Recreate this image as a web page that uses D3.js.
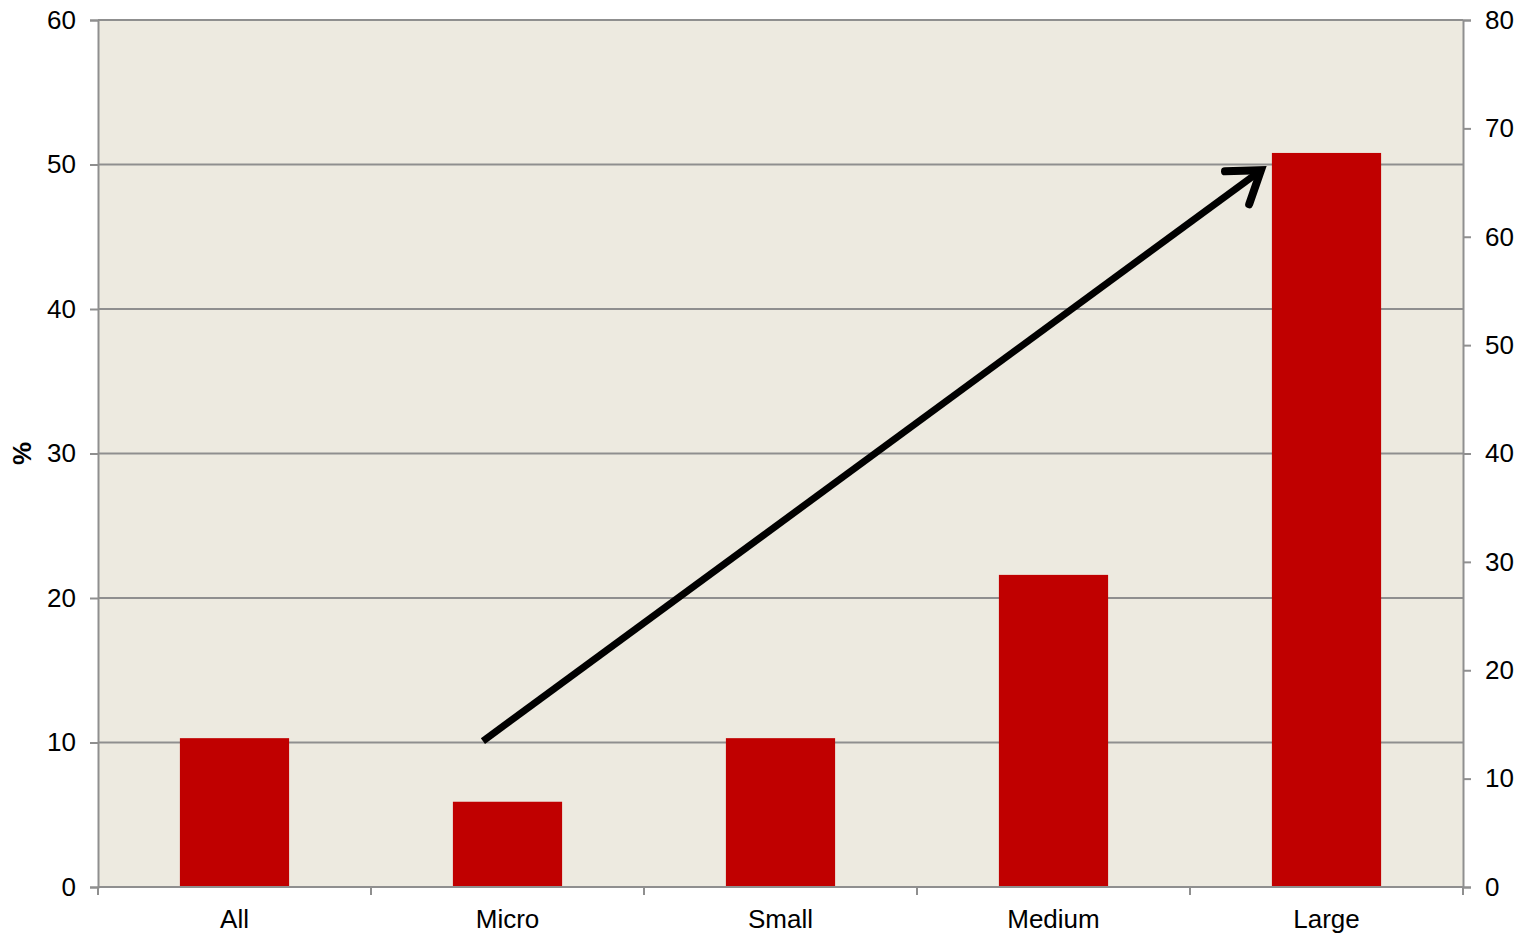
<!DOCTYPE html>
<html>
<head>
<meta charset="utf-8">
<script src="https://cdn.jsdelivr.net/npm/d3@7"></script>
<style>
  html, body { margin: 0; padding: 0; background: #ffffff; }
  svg { display: block; font-family: "Liberation Sans", Arial, sans-serif; }
</style>
</head>
<body>
<svg id="chart" width="1526" height="934"></svg>
<script>
// Firm size categories and share (%) per category
const categories = ["All", "Micro", "Small", "Medium", "Large"];
const values = [10.3, 5.9, 10.3, 21.6, 50.8];
const leftTicks = [0, 10, 20, 30, 40, 50, 60];
const rightTicks = [0, 10, 20, 30, 40, 50, 60, 70, 80];
// Trend arrow: [category, offset within band (0..1), value on left axis]
const arrowFrom = ["Micro", 0.41, 10.1];
const arrowTo = ["Large", 0.26, 49.6];

const svg = d3.select("#chart");
const m = { left: 98, right: 1463, top: 20, bottom: 887 };
const fontSize = 26;

const x = d3.scaleBand().domain(categories).range([m.left, m.right]).paddingInner(0).paddingOuter(0);
const y = d3.scaleLinear().domain([0, 60]).range([m.bottom, m.top]);
const y2 = d3.scaleLinear().domain([0, 80]).range([m.bottom, m.top]);

const axisColor = "#8f8f8f";

// Plot background
svg.append("rect")
  .attr("x", m.left).attr("y", m.top)
  .attr("width", m.right - m.left).attr("height", m.bottom - m.top)
  .attr("fill", "#edeae0");

// Horizontal gridlines
svg.append("g").selectAll("line").data(leftTicks.filter(d => d > 0)).join("line")
  .attr("x1", m.left).attr("x2", m.right)
  .attr("y1", d => y(d)).attr("y2", d => y(d))
  .attr("stroke", axisColor).attr("stroke-width", 2);

// Bars
const bw = x.bandwidth() * 0.4;
svg.append("g").selectAll("rect").data(categories).join("rect")
  .attr("x", (d) => x(d) + (x.bandwidth() - bw) / 2)
  .attr("width", bw)
  .attr("y", (d, i) => y(values[i]))
  .attr("height", (d, i) => y(0) - y(values[i]))
  .attr("fill", "#c00000");

function styleAxis(g) {
  g.select(".domain").attr("stroke", axisColor).attr("stroke-width", 2);
  g.selectAll(".tick line").attr("stroke", axisColor).attr("stroke-width", 2);
  g.selectAll(".tick text").attr("fill", "#000").attr("font-size", fontSize)
    .attr("font-family", "'Liberation Sans', Arial, sans-serif");
}

// Left axis
svg.append("g")
  .attr("transform", `translate(${m.left},0)`)
  .call(d3.axisLeft(y).tickValues(leftTicks).tickSize(8).tickSizeOuter(8).tickPadding(14))
  .call(styleAxis);

// Right axis
svg.append("g")
  .attr("transform", `translate(${m.right},0)`)
  .call(d3.axisRight(y2).tickValues(rightTicks).tickSize(8).tickSizeOuter(8).tickPadding(14))
  .call(styleAxis);

// Bottom axis: ticks at category boundaries, labels centred in bands
const xb = svg.append("g").attr("transform", `translate(0,${m.bottom})`);
xb.append("line").attr("x1", m.left).attr("x2", m.right)
  .attr("stroke", axisColor).attr("stroke-width", 2);
const bounds = categories.map(c => x(c)).concat([m.right]);
xb.selectAll("line.b").data(bounds).join("line").attr("class", "b")
  .attr("x1", d => d).attr("x2", d => d).attr("y1", 0).attr("y2", 8)
  .attr("stroke", axisColor).attr("stroke-width", 2);
xb.selectAll("text").data(categories).join("text")
  .attr("x", d => x(d) + x.bandwidth() / 2)
  .attr("y", 41)
  .attr("text-anchor", "middle")
  .attr("font-size", fontSize)
  .attr("fill", "#000")
  .text(d => d);

// Left axis title
svg.append("text")
  .attr("transform", `translate(31,${(m.top + m.bottom) / 2}) rotate(-90)`)
  .attr("text-anchor", "middle")
  .attr("font-size", fontSize)
  .attr("font-weight", "bold")
  .text("%");

// Trend arrow
const px = a => x(a[0]) + a[1] * x.bandwidth();
const x1 = px(arrowFrom), y1 = y(arrowFrom[2]);
const x2 = px(arrowTo), y2p = y(arrowTo[2]);
const ang = Math.atan2(y2p - y1, x2 - x1);
const headLen = 36, headAng = Math.PI / 5.2;
const arrow = svg.append("g").attr("stroke", "#000").attr("fill", "none")
  .attr("stroke-width", 7);
arrow.append("line")
  .attr("x1", x1).attr("y1", y1).attr("x2", x2 - 3 * Math.cos(ang)).attr("y2", y2p - 3 * Math.sin(ang));
arrow.append("path")
  .attr("stroke-linecap", "round").attr("stroke-linejoin", "miter")
  .attr("stroke-width", 8)
  .attr("d", d3.line()([
    [x2 - headLen * Math.cos(ang - headAng), y2p - headLen * Math.sin(ang - headAng)],
    [x2, y2p],
    [x2 - headLen * Math.cos(ang + headAng), y2p - headLen * Math.sin(ang + headAng)]
  ]));
</script>
</body>
</html>
